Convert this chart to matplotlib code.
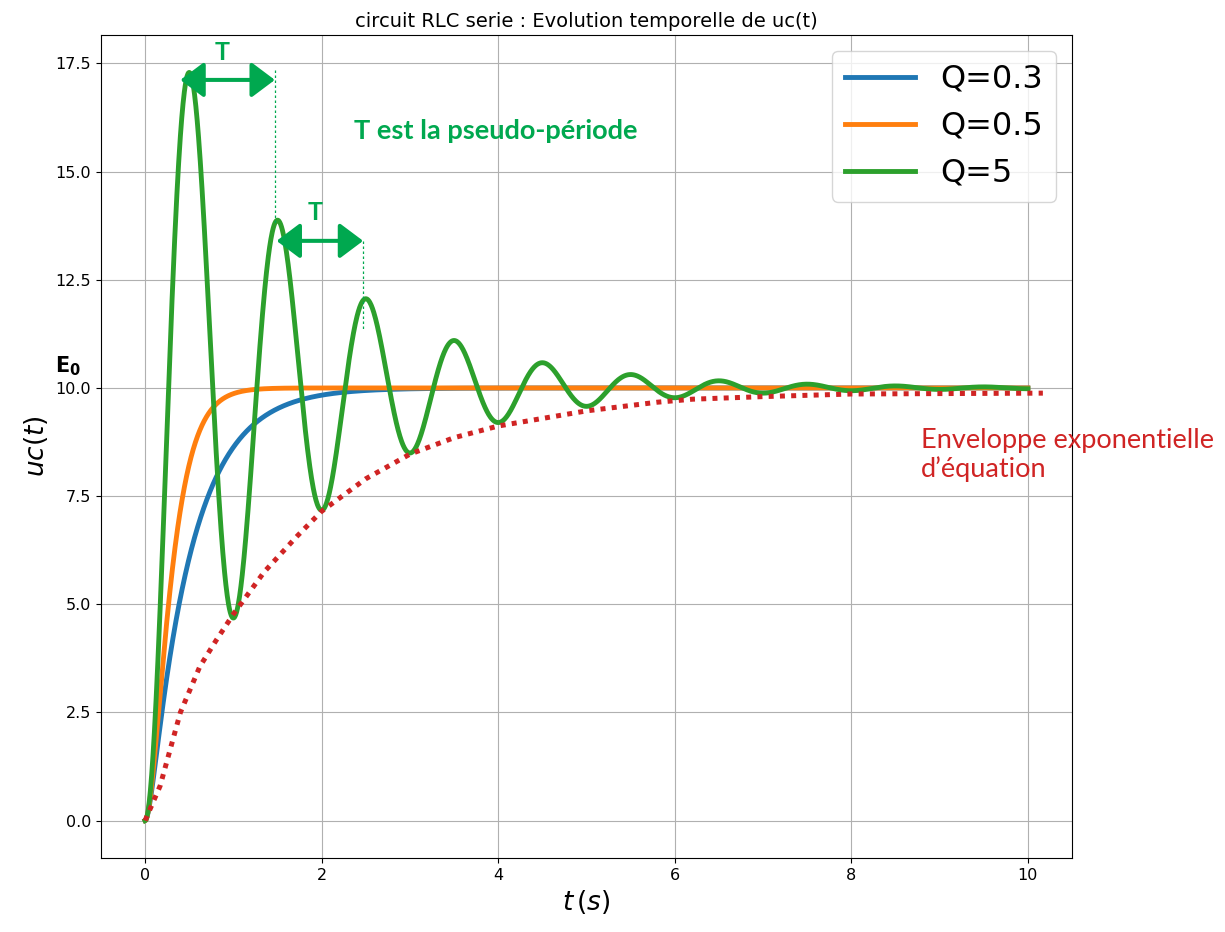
import numpy as np
import matplotlib
matplotlib.use('Agg')
import matplotlib.pyplot as plt

# circuit parameters
E0 = 10.0          # final value (V)
T = 1.0            # pseudo-period of the Q=5 response (s)
Q_values = [0.3, 0.5, 5]
labels = ['Q=0.3', 'Q=0.5', 'Q=5']
colors = ['#1f77b4', '#ff7f0e', '#2ca02c']

# hand drawn exponential envelope
env_t = [0, 0.17, 0.4, 0.62, 0.8, 1.0, 1.35, 1.72, 2.0, 2.5, 3.0, 3.5, 4.0, 5.0, 5.8, 6.2, 7.0, 8.0, 9.0, 10.17]
env_u = [0, 0.8, 2.5, 3.56, 4.15, 4.77, 5.75, 6.57, 7.15, 7.9, 8.47, 8.85, 9.12, 9.47, 9.67, 9.74, 9.8, 9.86, 9.87, 9.88]

GREEN = '#00a84f'
RED = '#d02424'

# natural pulsation deduced from the pseudo-period of the Q=5 curve
w0 = 2 * np.pi / T / np.sqrt(1 - 1 / (4 * Q_values[-1] ** 2))


def uc(t, Q):
    z = 1 / (2 * Q)
    if z < 1:
        wd = w0 * np.sqrt(1 - z ** 2)
        return E0 * (1 - np.exp(-z * w0 * t) * (np.cos(wd * t) + z / np.sqrt(1 - z ** 2) * np.sin(wd * t)))
    elif z == 1:
        return E0 * (1 - (1 + w0 * t) * np.exp(-w0 * t))
    r1 = -w0 * (z - np.sqrt(z ** 2 - 1))
    r2 = -w0 * (z + np.sqrt(z ** 2 - 1))
    return E0 * (1 - (r2 * np.exp(r1 * t) - r1 * np.exp(r2 * t)) / (r2 - r1))


t = np.linspace(0, 10, 2000)

fig = plt.figure(figsize=(12.25, 9.32), dpi=100)
ax = fig.add_axes([0.0824, 0.0794, 0.7927, 0.883])

for Q, lab, c in zip(Q_values, labels, colors):
    ax.plot(t, uc(t, Q), color=c, lw=3.5, label=lab)

ax.plot(env_t, env_u, color=RED, lw=3.6, dashes=(1, 1.25), zorder=5)

# x range follows the simulated curves only (usual 5 % margin)
span = t[-1] - t[0]
ax.set_xlim(t[0] - 0.05 * span, t[-1] + 0.05 * span)

ax.grid(True)
ax.tick_params(labelsize=11.5)
ax.set_title('circuit RLC serie : Evolution temporelle de uc(t)', fontsize=14)
ax.set_xlabel(r'$t\,(s)$', fontsize=19)
ax.set_ylabel(r'$uc(t)$', fontsize=19)
ax.legend(loc='upper right', fontsize=23, handlelength=2.2)

# pseudo-period arrows
arrow = dict(arrowstyle='<|-|>,head_length=1.0,head_width=0.75', color=GREEN,
             lw=2.9, mutation_scale=14.4, shrinkA=0, shrinkB=0)
ax.annotate('', xy=(1.47, 17.12), xytext=(0.40, 17.12), arrowprops=arrow, zorder=6)
ax.annotate('', xy=(2.47, 13.4), xytext=(1.49, 13.4), arrowprops=arrow, zorder=6)
ax.plot([1.47, 1.47], [17.35, 13.8], color=GREEN, lw=0.9, dashes=(2, 2), scalex=False, scaley=False)
ax.plot([2.47, 2.47], [13.4, 11.35], color=GREEN, lw=0.9, dashes=(2, 2), scalex=False, scaley=False)
ax.text(0.87, 17.75, 'T', color=GREEN, fontsize=18, fontweight='bold', family='Lato',
        ha='center', va='center')
ax.text(1.93, 14.05, 'T', color=GREEN, fontsize=18, fontweight='bold', family='Lato',
        ha='center', va='center')
ax.text(3.97, 15.95, 'T est la pseudo-période', color=GREEN, fontsize=19.5,
        fontweight='bold', family='Lato', ha='center', va='center')

ax.text(-1.02, 10.5, r'$\mathbf{E_0}$', fontsize=15, ha='left', va='center', clip_on=False)
ax.text(8.79, 8.45, 'Enveloppe exponentielle\nd’équation', color=RED, fontsize=19.5,
        family='Lato', ha='left', va='center', linespacing=1.2, clip_on=False)

fig.savefig('out.png', dpi=100)
